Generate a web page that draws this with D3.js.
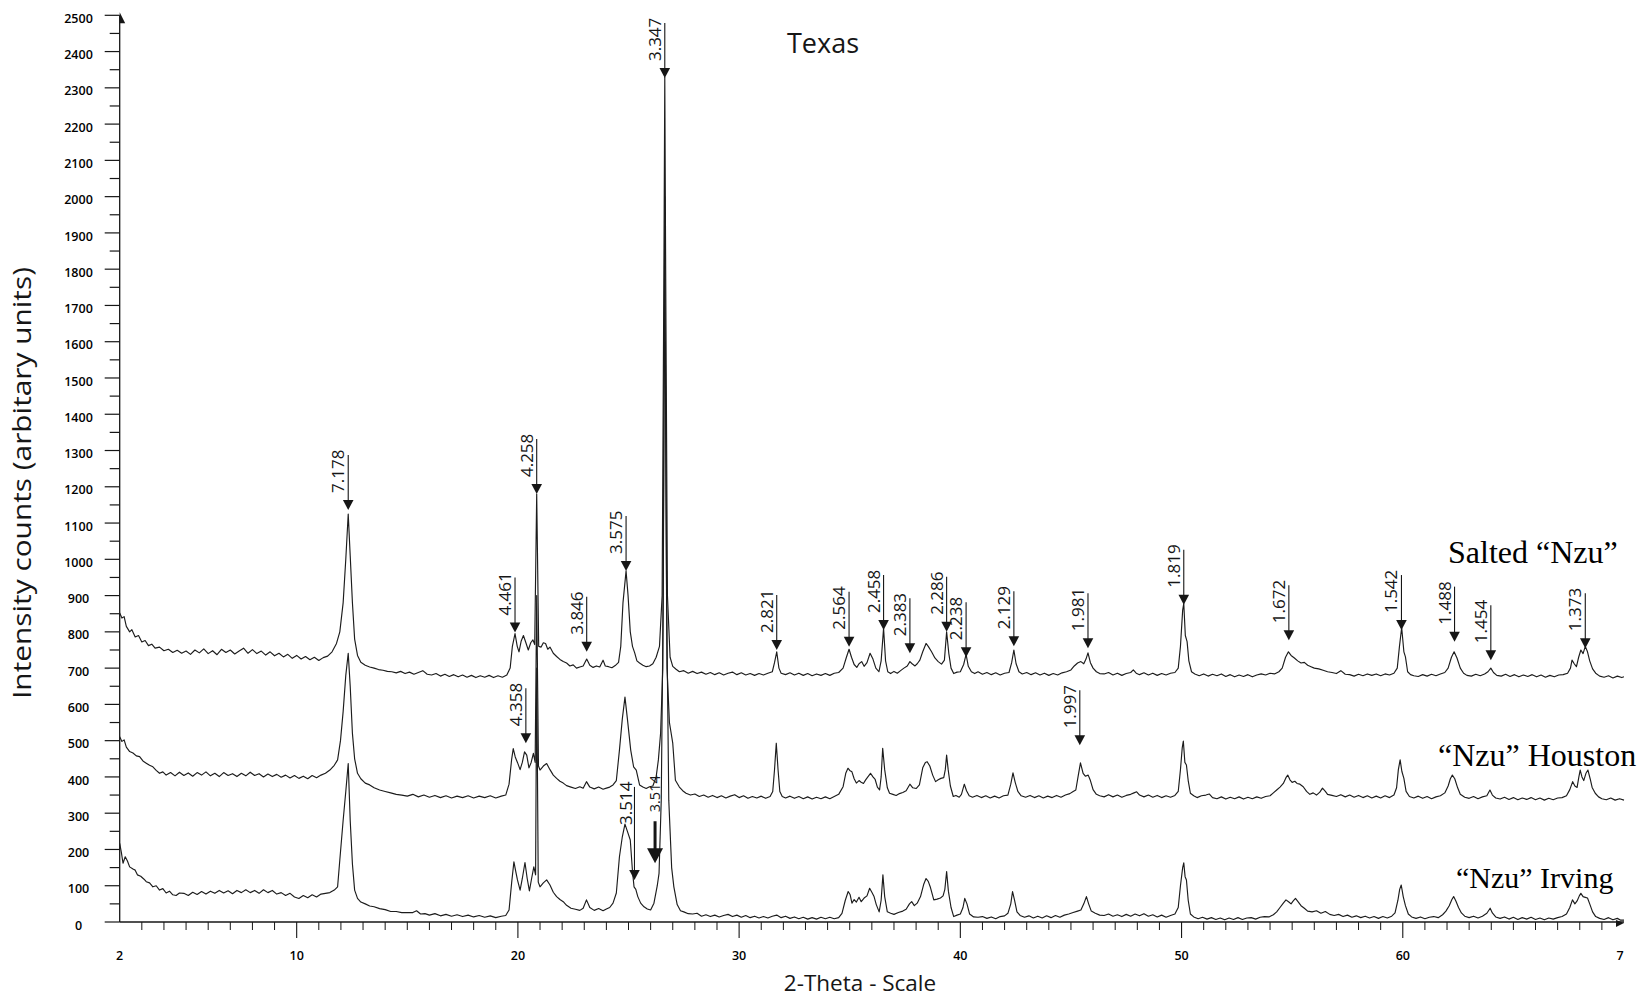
<!DOCTYPE html>
<html>
<head>
<meta charset="utf-8">
<script src="https://cdn.jsdelivr.net/npm/d3@7"></script>
<style>
  html, body { margin: 0; padding: 0; background: #fff; }
  svg { display: block; }
</style>
</head>
<body>
<svg id="chart" width="1640" height="997"></svg>
<script>
// ---- Diffraction patterns: [2-theta (deg), intensity counts] ----
const saltedNzu = [
  [2.0,852],[2.1,838],[2.2,842],[2.3,815],[2.45,800],[2.55,806],[2.7,786],[2.85,790],[3.0,772],[3.15,776],
  [3.3,762],[3.45,766],[3.6,755],[3.8,758],[4.0,748],[4.2,752],[4.4,743],[4.6,749],[4.8,741],[5.0,747],
  [5.2,738],[5.4,750],[5.6,742],[5.8,753],[6.0,740],[6.2,748],[6.4,737],[6.6,752],[6.8,743],[7.0,750],
  [7.2,739],[7.4,747],[7.6,755],[7.8,741],[8.0,751],[8.2,740],[8.4,747],[8.6,736],[8.8,745],[9.0,734],
  [9.2,741],[9.4,731],[9.6,738],[9.8,727],[10.0,735],[10.2,725],[10.4,732],[10.6,723],[10.8,730],[11.0,721],
  [11.2,729],[11.4,733],[11.6,745],[11.8,768],[11.95,800],[12.1,880],[12.22,1000],[12.33,1125],[12.42,1010],[12.52,880],
  [12.62,780],[12.75,735],[12.9,716],[13.1,708],[13.3,703],[13.5,700],[13.7,696],[13.9,694],[14.1,691],[14.3,690],
  [14.5,687],[14.7,691],[14.9,685],[15.1,689],[15.3,683],[15.5,688],[15.7,693],[15.9,683],[16.1,681],[16.3,685],
  [16.5,678],[16.7,683],[16.9,677],[17.1,682],[17.3,676],[17.5,681],[17.7,675],[17.9,680],[18.1,674],[18.3,679],
  [18.5,675],[18.7,680],[18.9,674],[19.1,679],[19.3,675],[19.5,681],[19.65,700],[19.75,760],[19.87,795],[19.97,760],
  [20.05,745],[20.15,775],[20.25,790],[20.35,772],[20.47,750],[20.58,770],[20.68,778],[20.76,765],[20.85,1180],[20.94,760],
  [21.05,758],[21.15,770],[21.25,768],[21.35,752],[21.45,758],[21.6,741],[21.75,732],[21.9,724],[22.05,718],[22.2,714],
  [22.35,706],[22.5,709],[22.65,700],[22.8,703],[22.95,706],[23.11,725],[23.25,708],[23.4,702],[23.55,706],[23.7,703],
  [23.85,722],[23.95,706],[24.1,704],[24.25,701],[24.4,707],[24.55,716],[24.65,760],[24.75,880],[24.89,968],[24.98,900],
  [25.08,800],[25.18,760],[25.28,742],[25.38,720],[25.5,714],[25.65,708],[25.8,704],[25.95,706],[26.1,712],[26.25,730],
  [26.4,760],[26.52,900],[26.6,1800],[26.64,2330],[26.68,1800],[26.76,900],[26.88,730],[27.0,705],[27.15,697],[27.3,690],
  [27.5,693],[27.7,686],[27.9,691],[28.1,685],[28.3,689],[28.5,683],[28.7,688],[28.9,682],[29.1,687],[29.3,681],
  [29.5,686],[29.7,689],[29.9,682],[30.1,687],[30.3,681],[30.5,685],[30.7,680],[30.9,685],[31.1,681],[31.3,686],
  [31.5,690],[31.6,715],[31.7,745],[31.8,700],[31.9,686],[32.1,682],[32.3,687],[32.5,681],[32.7,686],[32.9,680],
  [33.1,685],[33.3,679],[33.5,684],[33.7,680],[33.9,685],[34.1,680],[34.3,686],[34.5,688],[34.7,700],[34.85,730],
  [34.97,752],[35.08,730],[35.2,710],[35.32,702],[35.42,712],[35.54,718],[35.65,705],[35.78,715],[35.92,741],[36.05,725],
  [36.18,700],[36.32,690],[36.42,720],[36.53,810],[36.62,720],[36.72,690],[36.85,685],[37.0,691],[37.15,686],[37.3,693],
  [37.45,700],[37.6,706],[37.72,718],[37.82,712],[37.95,706],[38.05,712],[38.17,722],[38.3,745],[38.45,768],[38.55,760],
  [38.7,745],[38.85,728],[39.0,718],[39.15,711],[39.28,722],[39.38,800],[39.48,740],[39.58,700],[39.7,685],[39.85,689],
  [40.0,690],[40.15,710],[40.26,738],[40.36,705],[40.5,690],[40.65,685],[40.8,690],[41.0,683],[41.2,688],[41.4,682],
  [41.6,687],[41.8,681],[42.0,686],[42.2,688],[42.32,715],[42.42,750],[42.52,712],[42.65,690],[42.8,684],[43.0,688],
  [43.2,682],[43.4,687],[43.6,681],[43.8,686],[44.0,680],[44.2,685],[44.4,681],[44.6,687],[44.8,690],[45.0,695],
  [45.15,706],[45.3,714],[45.45,718],[45.58,712],[45.68,725],[45.77,742],[45.88,715],[46.0,700],[46.15,690],[46.3,685],
  [46.5,684],[46.7,688],[46.9,681],[47.1,686],[47.3,680],[47.5,685],[47.7,688],[47.82,695],[47.95,686],[48.1,682],
  [48.3,687],[48.5,681],[48.7,686],[48.9,680],[49.1,685],[49.3,681],[49.5,686],[49.7,688],[49.85,700],[49.95,760],
  [50.05,860],[50.1,878],[50.17,790],[50.25,773],[50.33,720],[50.45,690],[50.6,684],[50.8,679],[51.0,684],[51.2,678],
  [51.4,683],[51.6,679],[51.8,684],[52.0,677],[52.2,682],[52.4,676],[52.6,681],[52.8,677],[53.0,682],[53.2,676],
  [53.4,681],[53.6,684],[53.8,681],[54.0,686],[54.2,684],[54.4,690],[54.55,700],[54.7,730],[54.83,745],[54.95,735],
  [55.1,728],[55.25,720],[55.4,714],[55.55,716],[55.7,708],[55.85,704],[56.0,700],[56.2,698],[56.4,694],[56.6,690],
  [56.8,688],[57.0,685],[57.2,693],[57.4,683],[57.6,682],[57.8,678],[58.0,683],[58.2,679],[58.4,684],[58.6,680],
  [58.8,684],[59.0,679],[59.2,684],[59.4,681],[59.6,686],[59.75,700],[59.85,760],[59.95,812],[60.05,745],[60.12,731],
  [60.22,690],[60.35,682],[60.5,679],[60.7,677],[60.9,682],[61.1,678],[61.3,683],[61.5,679],[61.7,684],[61.9,688],
  [62.05,700],[62.2,730],[62.32,745],[62.45,728],[62.6,700],[62.75,686],[62.9,680],[63.1,678],[63.3,683],[63.5,679],
  [63.7,684],[63.85,690],[63.98,700],[64.1,688],[64.25,680],[64.45,678],[64.65,683],[64.85,677],[65.05,682],[65.25,676],
  [65.45,681],[65.65,677],[65.85,682],[66.05,676],[66.25,681],[66.45,675],[66.65,680],[66.85,676],[67.05,681],[67.25,682],
  [67.45,686],[67.58,700],[67.65,722],[67.75,712],[67.85,704],[67.95,730],[68.05,750],[68.15,740],[68.25,760],[68.35,745],
  [68.45,720],[68.58,698],[68.72,686],[68.9,678],[69.1,675],[69.3,679],[69.5,673],[69.7,678],[69.9,674],[70.0,676]
];

const nzuHouston = [
  [2.0,511],[2.1,498],[2.2,502],[2.3,482],[2.45,470],[2.6,466],[2.75,458],[2.9,456],[3.05,444],[3.2,438],
  [3.35,432],[3.5,428],[3.65,418],[3.8,410],[3.95,414],[4.1,405],[4.3,412],[4.5,403],[4.7,413],[4.9,404],
  [5.1,411],[5.3,402],[5.5,412],[5.7,405],[5.9,414],[6.1,403],[6.3,410],[6.5,401],[6.7,412],[6.9,404],
  [7.1,409],[7.3,401],[7.5,410],[7.7,403],[7.9,413],[8.1,404],[8.3,409],[8.5,400],[8.7,408],[8.9,401],
  [9.1,407],[9.3,399],[9.5,405],[9.7,397],[9.9,404],[10.1,396],[10.3,402],[10.5,395],[10.7,404],[10.9,398],
  [11.1,405],[11.3,410],[11.5,419],[11.7,432],[11.85,447],[11.98,500],[12.1,580],[12.22,680],[12.33,741],[12.42,650],
  [12.52,520],[12.62,450],[12.75,410],[12.9,395],[13.1,383],[13.3,378],[13.5,370],[13.75,364],[14.0,360],[14.25,356],
  [14.5,352],[14.75,350],[15.0,347],[15.25,352],[15.5,345],[15.75,350],[16.0,344],[16.25,349],[16.5,343],[16.75,348],
  [17.0,342],[17.25,347],[17.5,343],[17.75,348],[18.0,342],[18.25,347],[18.5,343],[18.75,348],[19.0,342],[19.25,347],
  [19.45,350],[19.6,380],[19.72,450],[19.79,478],[19.88,455],[19.98,440],[20.1,420],[20.2,440],[20.3,469],[20.4,460],
  [20.5,425],[20.6,440],[20.7,465],[20.78,440],[20.85,900],[20.93,430],[21.0,419],[21.15,430],[21.3,437],[21.45,420],
  [21.6,405],[21.75,396],[21.9,388],[22.05,383],[22.2,376],[22.4,372],[22.6,368],[22.8,373],[22.95,369],[23.1,387],
  [23.25,372],[23.45,367],[23.65,372],[23.85,366],[24.0,369],[24.15,372],[24.3,378],[24.45,390],[24.59,474],[24.72,560],
  [24.84,620],[24.95,560],[25.1,474],[25.23,428],[25.35,419],[25.5,378],[25.65,372],[25.8,368],[25.95,373],[26.1,375],
  [26.25,400],[26.35,447],[26.45,520],[26.55,700],[26.6,1400],[26.64,2000],[26.68,1400],[26.74,700],[26.85,550],[27.0,493],
  [27.12,391],[27.3,372],[27.45,362],[27.6,355],[27.8,350],[28.0,353],[28.2,346],[28.4,350],[28.6,344],[28.8,349],
  [29.0,343],[29.2,348],[29.4,342],[29.6,347],[29.8,351],[30.0,343],[30.2,348],[30.4,341],[30.6,346],[30.8,342],
  [31.0,347],[31.2,341],[31.4,346],[31.52,360],[31.6,420],[31.68,493],[31.76,420],[31.84,360],[31.95,346],[32.1,342],
  [32.3,347],[32.5,341],[32.7,346],[32.9,340],[33.1,345],[33.3,339],[33.5,344],[33.7,340],[33.9,345],[34.1,340],
  [34.3,346],[34.5,352],[34.7,373],[34.82,410],[34.92,424],[35.0,418],[35.1,414],[35.2,395],[35.3,383],[35.42,390],
  [35.5,386],[35.62,382],[35.72,392],[35.82,400],[35.94,410],[36.05,400],[36.15,393],[36.25,372],[36.35,364],[36.42,400],
  [36.49,479],[36.58,420],[36.7,370],[36.8,355],[36.95,352],[37.1,349],[37.25,354],[37.4,357],[37.55,362],[37.72,380],
  [37.85,370],[38.0,368],[38.15,378],[38.3,425],[38.42,440],[38.5,442],[38.62,430],[38.75,405],[38.88,387],[39.0,392],
  [39.12,396],[39.25,398],[39.32,420],[39.38,460],[39.45,420],[39.55,375],[39.68,346],[39.8,349],[39.95,344],[40.05,352],
  [40.18,380],[40.28,362],[40.4,348],[40.55,344],[40.75,349],[40.95,343],[41.15,348],[41.35,342],[41.55,347],[41.75,342],
  [41.95,348],[42.15,350],[42.28,380],[42.38,411],[42.48,385],[42.6,360],[42.75,348],[42.95,344],[43.15,349],[43.35,343],
  [43.55,348],[43.75,342],[43.95,347],[44.15,343],[44.35,349],[44.55,344],[44.75,350],[44.95,354],[45.1,360],[45.22,364],
  [45.32,400],[45.43,439],[45.55,410],[45.65,402],[45.78,405],[45.88,390],[46.0,365],[46.15,352],[46.3,348],[46.5,345],
  [46.7,351],[46.9,345],[47.1,350],[47.3,344],[47.5,349],[47.7,352],[47.85,356],[47.97,359],[48.1,350],[48.3,345],
  [48.5,350],[48.7,344],[48.9,349],[49.1,343],[49.3,348],[49.5,344],[49.7,349],[49.85,360],[49.95,420],[50.03,480],
  [50.08,499],[50.15,440],[50.22,433],[50.3,390],[50.4,355],[50.55,348],[50.7,343],[50.9,348],[51.1,350],[51.25,353],
  [51.4,343],[51.6,340],[51.8,345],[52.0,339],[52.2,344],[52.4,340],[52.6,345],[52.8,339],[53.0,344],[53.2,340],
  [53.4,345],[53.6,341],[53.8,346],[54.0,348],[54.15,356],[54.3,364],[54.45,372],[54.6,382],[54.72,398],[54.8,405],
  [54.9,392],[55.0,385],[55.12,388],[55.22,382],[55.35,380],[55.5,373],[55.65,360],[55.8,352],[55.95,356],[56.1,350],
  [56.25,358],[56.37,369],[56.5,360],[56.6,352],[56.8,349],[57.0,346],[57.2,351],[57.4,345],[57.6,350],[57.8,344],
  [58.0,349],[58.2,343],[58.4,348],[58.6,342],[58.8,347],[59.0,342],[59.2,348],[59.4,343],[59.6,350],[59.72,370],
  [59.8,420],[59.88,447],[59.96,415],[60.05,396],[60.15,360],[60.3,346],[60.5,342],[60.7,347],[60.9,341],[61.1,346],
  [61.3,340],[61.5,345],[61.7,348],[61.9,356],[62.05,375],[62.15,395],[62.24,405],[62.35,395],[62.48,370],[62.6,352],
  [62.8,344],[63.0,341],[63.2,346],[63.4,340],[63.6,345],[63.8,348],[63.94,364],[64.05,350],[64.2,342],[64.4,339],
  [64.6,344],[64.8,338],[65.0,343],[65.2,337],[65.4,342],[65.6,338],[65.8,343],[66.0,337],[66.2,342],[66.4,336],
  [66.6,341],[66.8,337],[67.0,342],[67.2,343],[67.4,348],[67.55,365],[67.68,387],[67.78,375],[67.88,371],[67.96,400],
  [68.02,419],[68.1,400],[68.18,390],[68.28,410],[68.37,419],[68.47,395],[68.56,371],[68.7,355],[68.85,345],[69.0,340],
  [69.2,337],[69.4,342],[69.6,336],[69.8,340],[70.0,336]
];

const nzuIrving = [
  [2.0,217],[2.08,190],[2.15,162],[2.25,180],[2.35,168],[2.45,152],[2.6,146],[2.7,143],[2.8,130],[2.95,126],
  [3.1,118],[3.2,111],[3.35,108],[3.5,97],[3.65,100],[3.8,88],[3.95,92],[4.1,80],[4.25,85],[4.4,75],
  [4.55,73],[4.7,80],[4.9,79],[5.1,73],[5.3,82],[5.5,76],[5.7,84],[5.9,77],[6.1,85],[6.3,79],
  [6.5,87],[6.7,80],[6.9,86],[7.1,78],[7.3,87],[7.5,81],[7.7,89],[7.9,81],[8.1,87],[8.3,79],
  [8.5,89],[8.7,81],[8.9,87],[9.1,77],[9.3,81],[9.5,73],[9.7,79],[9.9,69],[10.1,65],[10.3,73],
  [10.5,67],[10.7,75],[10.9,69],[11.1,77],[11.3,79],[11.5,81],[11.7,88],[11.85,97],[11.95,171],[12.1,280],
  [12.22,360],[12.33,437],[12.42,280],[12.52,160],[12.62,88],[12.75,65],[12.9,55],[13.1,50],[13.3,44],[13.5,42],
  [13.75,37],[14.0,34],[14.25,29],[14.5,29],[14.75,26],[15.0,26],[15.25,26],[15.42,31],[15.6,22],[15.8,23],
  [16.0,19],[16.25,23],[16.5,17],[16.75,21],[17.0,16],[17.25,20],[17.5,15],[17.75,19],[18.0,14],[18.25,18],
  [18.5,13],[18.75,17],[19.0,12],[19.25,16],[19.45,18],[19.6,33],[19.72,110],[19.82,166],[19.9,140],[19.98,116],
  [20.1,88],[20.2,120],[20.32,164],[20.42,120],[20.52,86],[20.62,120],[20.72,152],[20.8,130],[20.85,700],[20.92,110],
  [21.0,97],[21.15,108],[21.3,116],[21.45,102],[21.6,82],[21.75,70],[21.9,62],[22.05,56],[22.2,46],[22.4,38],
  [22.6,35],[22.8,32],[22.95,38],[23.1,61],[23.25,40],[23.45,32],[23.65,37],[23.85,31],[24.0,36],[24.15,40],
  [24.3,52],[24.45,80],[24.59,180],[24.72,235],[24.84,270],[24.95,250],[25.08,226],[25.18,140],[25.25,97],[25.33,90],
  [25.42,70],[25.55,52],[25.7,42],[25.85,36],[26.0,33],[26.15,52],[26.3,100],[26.38,134],[26.48,336],[26.57,900],
  [26.62,1600],[26.66,1600],[26.72,900],[26.82,336],[26.95,150],[27.05,97],[27.2,48],[27.35,31],[27.5,28],[27.7,23],
  [27.9,22],[28.1,24],[28.3,16],[28.5,20],[28.7,15],[28.9,19],[29.1,14],[29.3,18],[29.5,21],[29.7,15],
  [29.9,19],[30.1,13],[30.3,18],[30.5,12],[30.7,16],[30.9,11],[31.1,15],[31.3,11],[31.5,16],[31.7,19],
  [31.9,12],[32.1,16],[32.3,10],[32.5,14],[32.7,9],[32.9,13],[33.1,8],[33.3,12],[33.5,8],[33.7,13],
  [33.9,9],[34.1,13],[34.3,9],[34.5,12],[34.65,24],[34.8,60],[34.93,84],[35.02,75],[35.1,52],[35.2,62],
  [35.3,55],[35.42,68],[35.52,56],[35.65,66],[35.78,72],[35.9,93],[36.0,82],[36.1,70],[36.2,48],[36.33,28],
  [36.42,60],[36.5,130],[36.58,70],[36.7,28],[36.85,24],[37.0,21],[37.2,26],[37.4,30],[37.55,35],[37.7,50],
  [37.8,56],[37.92,45],[38.05,52],[38.2,70],[38.35,105],[38.45,120],[38.55,112],[38.65,95],[38.8,61],[38.95,63],
  [39.1,66],[39.22,72],[39.3,90],[39.38,139],[39.46,85],[39.58,40],[39.7,15],[39.85,19],[40.0,22],[40.12,40],
  [40.2,65],[40.3,50],[40.42,22],[40.6,14],[40.8,13],[41.0,15],[41.2,10],[41.4,14],[41.6,9],[41.8,15],
  [42.0,17],[42.15,24],[42.28,50],[42.36,84],[42.45,60],[42.56,28],[42.7,18],[42.9,13],[43.1,17],[43.3,11],
  [43.5,16],[43.7,11],[43.9,17],[44.1,12],[44.3,18],[44.5,13],[44.7,19],[44.9,22],[45.1,26],[45.3,30],
  [45.45,33],[45.58,50],[45.7,70],[45.8,50],[45.92,30],[46.1,24],[46.3,19],[46.5,18],[46.7,22],[46.9,16],
  [47.1,20],[47.3,15],[47.5,21],[47.7,16],[47.9,22],[48.1,17],[48.3,23],[48.5,16],[48.7,20],[48.9,14],
  [49.1,19],[49.3,13],[49.5,18],[49.7,22],[49.85,40],[49.95,100],[50.05,150],[50.1,163],[50.16,125],[50.22,116],
  [50.3,60],[50.4,22],[50.55,14],[50.75,9],[50.95,13],[51.15,8],[51.35,12],[51.55,7],[51.75,11],[51.95,6],
  [52.15,11],[52.35,7],[52.55,12],[52.75,7],[52.95,11],[53.15,12],[53.35,8],[53.55,13],[53.75,15],[53.95,14],
  [54.15,20],[54.3,28],[54.45,40],[54.6,52],[54.72,61],[54.85,55],[54.95,50],[55.05,58],[55.15,65],[55.28,55],
  [55.4,45],[55.55,38],[55.7,30],[55.9,28],[56.1,31],[56.3,24],[56.5,29],[56.7,21],[56.9,18],[57.1,21],
  [57.3,15],[57.5,19],[57.7,13],[57.9,17],[58.1,12],[58.3,16],[58.5,11],[58.7,15],[58.9,10],[59.1,15],
  [59.3,11],[59.5,16],[59.65,25],[59.78,60],[59.86,90],[59.93,102],[60.02,70],[60.12,45],[60.25,22],[60.4,14],
  [60.6,10],[60.8,14],[61.0,9],[61.2,13],[61.4,15],[61.6,12],[61.8,20],[61.95,30],[62.1,45],[62.22,62],
  [62.3,70],[62.4,58],[62.52,40],[62.65,25],[62.8,16],[63.0,12],[63.2,16],[63.4,11],[63.6,16],[63.8,24],
  [63.95,38],[64.05,25],[64.2,14],[64.4,10],[64.6,14],[64.8,8],[65.0,13],[65.2,7],[65.4,12],[65.6,8],
  [65.8,13],[66.0,7],[66.2,11],[66.4,6],[66.6,11],[66.8,8],[67.0,12],[67.2,15],[67.4,22],[67.55,40],
  [67.67,61],[67.78,50],[67.88,58],[67.98,72],[68.05,79],[68.15,70],[68.25,68],[68.35,66],[68.45,50],[68.58,28],
  [68.72,15],[68.9,10],[69.1,7],[69.3,12],[69.5,6],[69.7,10],[69.85,5],[70.0,5]
];

// ---- Peak annotations: [d-spacing label, 2-theta, arrow tip counts] ----
const saltedMarks = [
  ["7.178",12.33,1136],["4.461",19.87,798],["4.258",20.85,1180],["3.846",23.11,745],["3.575",24.89,968],
  ["3.347",26.64,2327],["2.821",31.70,750],["2.564",34.97,759],["2.458",36.53,805],["2.383",37.72,741],
  ["2.286",39.38,800],["2.238",40.26,730],["2.129",42.42,760],["1.981",45.77,755],["1.819",50.10,875],
  ["1.672",54.85,777],["1.542",59.94,805],["1.488",62.34,773],["1.454",63.98,722],["1.373",68.25,755]
];
const houstonMarks = [["4.358",20.36,493],["1.997",45.40,487]];
const irvingMarks = [["3.514",25.27,116],["3.514",26.20,162]];

// ---- Axis ticks and labels ----
const xTickValues = [2,10,20,30,40,50,60,70];
const xTickLabels = ["2","10","20","30","40","50","60","7"];
const yTickValues = d3.range(0, 2501, 100);

// ---- Text ----
const chartTitle = "Texas";
const xTitle = "2-Theta - Scale";
const yTitle = "Intensity counts (arbitary units)";
const seriesNames = ["Salted \u201CNzu\u201D", "\u201CNzu\u201D Houston", "\u201CNzu\u201D Irving"];

const svg = d3.select("#chart");
const ink = "#161616";
const sans = "'Open Sans', 'DejaVu Sans', sans-serif";
const serif = "'Liberation Serif', 'Times New Roman', serif";

const x = d3.scaleLinear().domain([2, 70]).range([119.7, 1624]);
const y = d3.scaleLinear().domain([0, 2500]).range([922, 15.3]);

// ---- Y axis ----
const yAxisG = svg.append("g").attr("transform", `translate(${x(2)},0)`);
yAxisG.append("line").attr("x1", 0).attr("x2", 0).attr("y1", y(0)).attr("y2", y(2500))
  .attr("stroke", ink).attr("stroke-width", 1.3);
yAxisG.selectAll("line.major").data(yTickValues).join("line")
  .attr("class", "major").attr("x1", -15).attr("x2", 0)
  .attr("y1", d => y(d)).attr("y2", d => y(d)).attr("stroke", ink).attr("stroke-width", 1.2);
yAxisG.selectAll("line.minor").data(d3.range(50, 2500, 100)).join("line")
  .attr("class", "minor").attr("x1", -10).attr("x2", 0)
  .attr("y1", d => y(d)).attr("y2", d => y(d)).attr("stroke", ink).attr("stroke-width", 1.2);
yAxisG.selectAll("text").data(yTickValues).join("text")
  .attr("x", 78.5 - x(2)).attr("y", d => y(d) + 7.6)
  .attr("text-anchor", "middle").attr("font-family", sans).attr("font-size", 12.5)
  .attr("font-weight", 600).attr("fill", "#000").text(d => d);
// arrow tip at top of y axis
svg.append("path").attr("d", `M${x(2)},${y(2500) - 3}L${x(2) + 5.5},${y(2500) + 8}L${x(2)},${y(2500) + 8}Z`).attr("fill", ink);

// ---- X axis ----
const xAxisG = svg.append("g").attr("transform", `translate(0,${y(0)})`);
xAxisG.append("line").attr("x1", x(2)).attr("x2", x(70)).attr("y1", 0).attr("y2", 0)
  .attr("stroke", ink).attr("stroke-width", 1.3);
xAxisG.selectAll("line.minor").data(d3.range(3, 70).filter(v => v % 10 !== 0)).join("line")
  .attr("class", "minor").attr("x1", d => x(d)).attr("x2", d => x(d)).attr("y1", 0).attr("y2", 8)
  .attr("stroke", ink).attr("stroke-width", 1);
xAxisG.selectAll("line.major").data(xTickValues.filter(v => v > 2 && v < 70)).join("line")
  .attr("class", "major").attr("x1", d => x(d)).attr("x2", d => x(d)).attr("y1", 0).attr("y2", 16)
  .attr("stroke", ink).attr("stroke-width", 1.1);
xAxisG.selectAll("text").data(xTickValues).join("text")
  .attr("x", (d, i) => x(d) - (i === xTickValues.length - 1 ? 4 : 0)).attr("y", 38)
  .attr("text-anchor", "middle").attr("font-family", sans).attr("font-size", 12.5)
  .attr("font-weight", 600).attr("fill", "#000").text((d, i) => xTickLabels[i]);
svg.append("path").attr("d", `M${x(70) - 8},${y(0) - 2}L${x(70)},${y(0) + 1}L${x(70) - 8},${y(0) + 5}Z`).attr("fill", ink);

// ---- Titles ----
svg.append("text").attr("x", 787).attr("y", 53).attr("font-family", sans).attr("font-size", 27)
  .attr("fill", ink).text(chartTitle);
svg.append("text").attr("x", 860).attr("y", 991).attr("text-anchor", "middle").attr("font-family", sans)
  .attr("font-size", 22.5).attr("fill", ink).text(xTitle);
svg.append("text").attr("transform", "translate(31,483) rotate(-90)").attr("text-anchor", "middle")
  .attr("font-family", sans).attr("font-size", 26).attr("fill", ink)
  .attr("textLength", 432).attr("lengthAdjust", "spacingAndGlyphs").text(yTitle);

// ---- Traces ----
const line = d3.line().x(d => x(d[0])).y(d => y(d[1]));
[nzuIrving, nzuHouston, saltedNzu].forEach(s => {
  svg.append("path").datum(s).attr("d", line).attr("fill", "none")
    .attr("stroke", "#1c1c1c").attr("stroke-width", 1.15).attr("stroke-linejoin", "round");
});

// ---- Series names ----
const nameSpots = [[1448, 563, 32], [1438, 766, 32], [1456, 888, 30]];
svg.selectAll("text.series").data(seriesNames).join("text").attr("class", "series")
  .attr("x", (d, i) => nameSpots[i][0]).attr("y", (d, i) => nameSpots[i][1])
  .attr("font-family", serif).attr("font-size", (d, i) => nameSpots[i][2]).attr("fill", "#000").text(d => d);

// ---- Peak arrows ----
function drawMark(g, mark, opt = {}) {
  const [label, theta, tip] = mark;
  const px = x(theta), py = y(tip);
  const len = opt.len || 55, head = opt.head || 10, hw = opt.hw || 5.3, sw = opt.sw || 1.1;
  g.append("line").attr("x1", px).attr("x2", px).attr("y1", py - len).attr("y2", py - head + 1)
    .attr("stroke", ink).attr("stroke-width", sw);
  g.append("path").attr("d", `M${px - hw},${py - head}L${px + hw},${py - head}L${px},${py}Z`).attr("fill", ink);
  const tx = px + (opt.dx !== undefined ? opt.dx : -4);
  const ty = py - (opt.gap || 17);
  g.append("text").attr("transform", `translate(${tx},${ty}) rotate(-90)`)
    .attr("font-family", sans).attr("font-size", opt.fs || 17).attr("fill", ink).text(label);
}
const marks = svg.append("g");
saltedMarks.forEach(m => drawMark(marks, m));
houstonMarks.forEach(m => drawMark(marks, m));
drawMark(marks, irvingMarks[0], { len: 93, gap: 55, dx: -2.5 });
drawMark(marks, irvingMarks[1], { len: 42, head: 15, hw: 8, sw: 3, gap: 51, dx: 5, fs: 14.5 });
</script>
</body>
</html>
